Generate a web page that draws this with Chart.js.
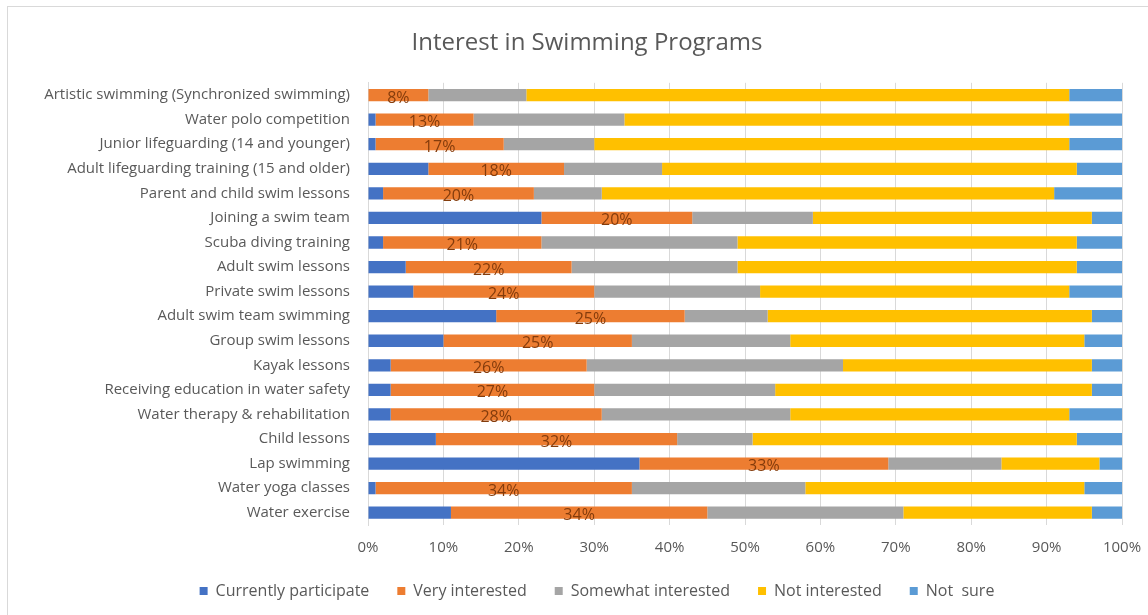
<!DOCTYPE html>
<html>
<head>
<meta charset="utf-8">
<script src="https://cdn.jsdelivr.net/npm/chart.js@4"></script>
<style>
  html, body { margin: 0; padding: 0; background: #fff; }
  #wrap { position: relative; width: 1148px; height: 615px; overflow: hidden; }
  #frame { position: absolute; left: 7px; top: 6px; width: 1200px; height: 700px; border: 1px solid #d9d9d9; }
  canvas { position: absolute; left: 0; top: 0; }
</style>
</head>
<body>
<div id="wrap">
  <div id="frame"></div>
  <canvas id="myChart" width="1148" height="615"></canvas>
</div>
<script>
// programs, top to bottom as in the picture
const programs = [
  "Artistic swimming (Synchronized swimming)",
  "Water polo competition",
  "Junior lifeguarding (14 and younger)",
  "Adult lifeguarding training (15 and older)",
  "Parent and child swim lessons",
  "Joining a swim team",
  "Scuba diving training",
  "Adult swim lessons",
  "Private swim lessons",
  "Adult swim team swimming",
  "Group swim lessons",
  "Kayak lessons",
  "Receiving education in water safety",
  "Water therapy & rehabilitation",
  "Child lessons",
  "Lap swimming",
  "Water yoga classes",
  "Water exercise"
];

// percent of respondents
const currentlyParticipate = [0, 1, 1, 8, 2, 23, 2, 5, 6, 17, 10, 3, 3, 3, 9, 36, 1, 11];
const veryInterested       = [8, 13, 17, 18, 20, 20, 21, 22, 24, 25, 25, 26, 27, 28, 32, 33, 34, 34];
const somewhatInterested   = [13, 20, 12, 13, 9, 16, 26, 22, 22, 11, 21, 34, 24, 25, 10, 15, 23, 26];
const notInterested        = [72, 59, 63, 55, 60, 37, 45, 45, 41, 43, 39, 33, 42, 37, 43, 13, 37, 25];
const notSure              = [7, 7, 7, 6, 9, 4, 6, 6, 7, 4, 5, 4, 4, 7, 6, 3, 5, 4];

const xTicks = [0, 10, 20, 30, 40, 50, 60, 70, 80, 90, 100];

const FONT = "'Open Sans', sans-serif";
const TEXT = "#595959";

// draws the % labels in the middle of the orange bars
const barLabels = {
  id: 'barLabels',
  afterDatasetsDraw(chart) {
    const ctx = chart.ctx;
    const meta = chart.getDatasetMeta(1);
    ctx.save();
    ctx.font = "16px " + FONT;
    ctx.fillStyle = "#843c0c";
    ctx.textAlign = "center";
    ctx.textBaseline = "middle";
    meta.data.forEach(function (bar, i) {
      const cx = (bar.x + bar.base) / 2;
      ctx.fillText(veryInterested[i] + "%", cx, bar.y + 3);
    });
    ctx.restore();
  }
};

// fixed legend height so the plot keeps its size,
// title and legend nudged like in the original
const layoutTweaks = {
  id: 'layoutTweaks',
  beforeInit(chart) {
    const fit = chart.legend.fit;
    chart.legend.fit = function () {
      fit.call(this);
      this.height = 57;
    };
  },
  afterLayout(chart) {
    chart.titleBlock.left += 42;
    chart.legend.left += 31;
    chart.legend.right += 31;
    chart.legend.top -= 3;
  }
};

new Chart("myChart", {
  type: "bar",
  data: {
    labels: programs,
    datasets: [
      { label: "Currently participate", data: currentlyParticipate, backgroundColor: "#4472c4" },
      { label: "Very interested", data: veryInterested, backgroundColor: "#ed7d31" },
      { label: "Somewhat interested", data: somewhatInterested, backgroundColor: "#a5a5a5" },
      { label: "Not interested", data: notInterested, backgroundColor: "#ffc000" },
      { label: "Not  sure", data: notSure, backgroundColor: "#5b9bd5" }
    ]
  },
  options: {
    indexAxis: "y",
    responsive: false,
    animation: false,
    datasets: { bar: { categoryPercentage: 1, barPercentage: 0.5 } },
    layout: { padding: { left: 10, right: 26, top: 20, bottom: 0 } },
    plugins: {
      title: {
        display: true,
        text: "Interest in Swimming Programs",
        color: TEXT,
        font: { family: FONT, size: 24, weight: "normal" },
        padding: { top: 9, bottom: 25 }
      },
      legend: {
        position: "bottom",
        labels: {
          color: TEXT,
          font: { family: FONT, size: 16 },
          boxWidth: 8,
          boxHeight: 8,
          padding: 28
        }
      },
      tooltip: { enabled: false }
    },
    scales: {
      x: {
        stacked: true,
        min: 0,
        max: 100,
        afterBuildTicks: function (scale) {
          scale.ticks = xTicks.map(function (v) { return { value: v }; });
        },
        afterFit: function (scale) {
          scale.height = 33;
          scale.paddingRight = 13;
        },
        ticks: {
          color: TEXT,
          font: { family: FONT, size: 15 },
          padding: 14,
          callback: function (v) { return v + "%"; }
        },
        grid: { color: "#d9d9d9", drawTicks: false },
        border: { display: false }
      },
      y: {
        stacked: true,
        afterFit: function (scale) { scale.width = 358; },
        ticks: {
          color: TEXT,
          font: { family: FONT, size: 15 },
          padding: 10,
          autoSkip: false
        },
        grid: { display: false },
        border: { color: "#d9d9d9" }
      }
    }
  },
  plugins: [barLabels, layoutTweaks]
});
</script>
</body>
</html>
